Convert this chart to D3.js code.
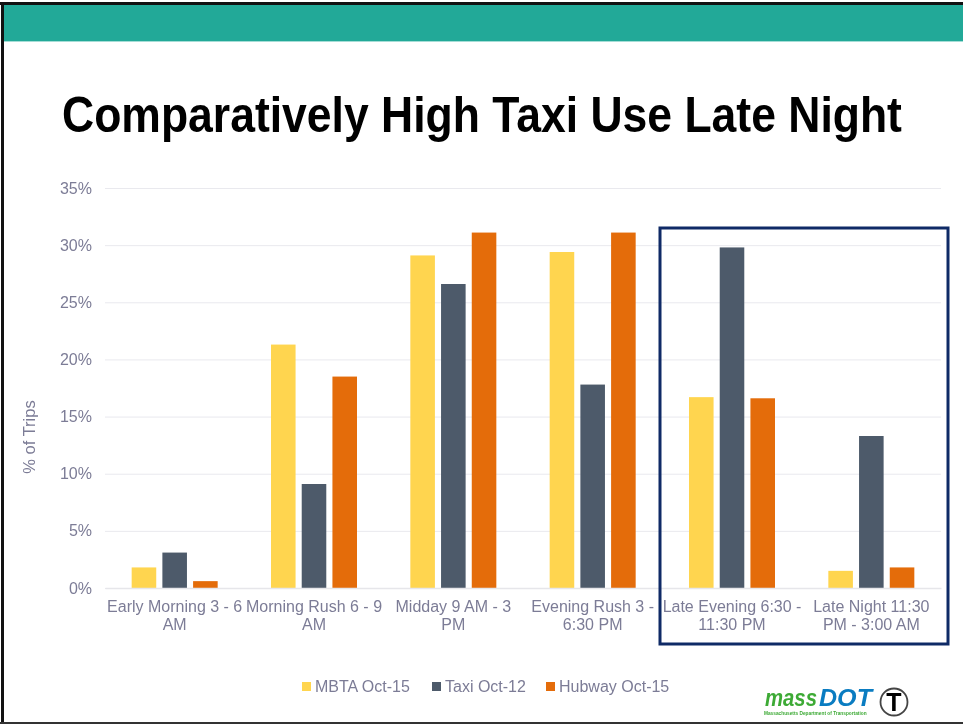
<!DOCTYPE html>
<html><head><meta charset="utf-8">
<script src="https://cdn.jsdelivr.net/npm/d3@7"></script>
<style>html,body{margin:0;padding:0;background:#fff}svg{display:block;filter:blur(0.4px)}text{font-family:"Liberation Sans",Arial,sans-serif}</style>
</head><body><svg id="c" width="963" height="724"></svg>
<script>
const title = "Comparatively High Taxi Use Late Night";
const categories = ["Early Morning 3 - 6 AM","Morning Rush 6 - 9 AM","Midday 9 AM - 3 PM","Evening Rush 3 - 6:30 PM","Late Evening 6:30 - 11:30 PM","Late Night 11:30 PM - 3:00 AM"];
const categoryLines = [["Early Morning 3 - 6","AM"],["Morning Rush 6 - 9","AM"],["Midday 9 AM - 3","PM"],["Evening Rush 3 -","6:30 PM"],["Late Evening 6:30 -","11:30 PM"],["Late Night 11:30","PM - 3:00 AM"]];
const seriesNames = ["MBTA Oct-15","Taxi Oct-12","Hubway Oct-15"];
const seriesColors = ["#FFD54F","#4D5A6A","#E46C0A"];
const mbta = [1.8,21.3,29.1,29.4,16.7,1.5];
const taxi = [3.1,9.1,26.6,17.8,29.8,13.3];
const hubway = [0.6,18.5,31.1,31.1,16.6,1.8];
const yTicks = [0,5,10,15,20,25,30,35];
const values = [mbta,taxi,hubway];
const textCol = "#7C7C96";
const labelSize = 16;

const svg = d3.select("#c");
// text squeezed horizontally to a given width, without overflowing its natural box
function fitText(parent, str, px, py, width, size, fill, italic){
  const t = parent.append("text").attr("font-size",size).attr("font-weight",700).attr("fill",fill)
    .attr("font-style",italic?"italic":"normal").text(str);
  const k = width/t.node().getComputedTextLength();
  t.attr("transform",`translate(${px},${py}) scale(${k},1)`);
  return t;
}
// slide frame and banner
svg.append("rect").attr("x",4).attr("y",5).attr("width",959).attr("height",36).attr("fill","#22A998");
svg.append("rect").attr("x",4).attr("y",41).attr("width",959).attr("height",1).attr("fill","#A5DDD6");
svg.append("rect").attr("x",0).attr("y",2).attr("width",963).attr("height",3).attr("fill","#111");
svg.append("rect").attr("x",1).attr("y",2).attr("width",3).attr("height",722).attr("fill","#111");
svg.append("rect").attr("x",0).attr("y",722).attr("width",963).attr("height",2).attr("fill","#333");
fitText(svg, title, 62, 132, 840, 50, "#000", false);

const x = d3.scaleBand().domain(categories).range([105,941]);
const y = d3.scaleLinear().domain([0,35]).range([588,188]);
const inner = d3.scaleBand().domain(seriesNames).range([-43,43]).paddingInner(0.2).paddingOuter(0);

// y axis + gridlines
const gy = svg.append("g").attr("transform","translate(105,0)")
  .call(d3.axisLeft(y).tickValues(yTicks).tickFormat(d=>d+"%").tickSize(-836).tickPadding(13));
gy.select(".domain").remove();
gy.selectAll(".tick line").attr("stroke","#E9E9EE").attr("stroke-width",1);
gy.selectAll(".tick text").attr("fill",textCol).attr("font-size",labelSize);
svg.append("text").attr("transform","translate(35,437) rotate(-90)").attr("text-anchor","middle")
  .attr("fill",textCol).attr("font-size",labelSize+0.5).text("% of Trips");

// bars
seriesNames.forEach((s,i)=>{
  svg.append("g").selectAll("rect").data(values[i]).join("rect")
    .attr("x",(d,j)=>x(categories[j])+x.bandwidth()/2+inner(s))
    .attr("width",inner.bandwidth())
    .attr("y",d=>y(d)).attr("height",d=>y(0)-y(d)).attr("fill",seriesColors[i]);
});

// x axis
const gx = svg.append("g").attr("transform","translate(0,588)")
  .call(d3.axisBottom(x).tickSize(0).tickFormat(""));
gx.select(".domain").attr("stroke","#E6E6EA").attr("stroke-width",1.5);
gx.selectAll(".tick text").remove();
gx.selectAll(".tick").each(function(d,i){
  const t = d3.select(this).append("text").attr("text-anchor","middle").attr("fill",textCol).attr("font-size",labelSize);
  categoryLines[i].forEach((l,k)=>t.append("tspan").attr("x",0).attr("y",24+k*18).text(l));
});

// highlight box
svg.append("rect").attr("x",660).attr("y",228).attr("width",288).attr("height",416).attr("fill","none").attr("stroke","#0F2A66").attr("stroke-width",3);

// legend
const lx = [302,432,546];
seriesNames.forEach((s,i)=>{
  svg.append("rect").attr("x",lx[i]).attr("y",682).attr("width",9).attr("height",9).attr("fill",seriesColors[i]);
  svg.append("text").attr("x",lx[i]+13).attr("y",692).attr("fill",textCol).attr("font-size",labelSize).text(s);
});

// logo
const logo = svg.append("g");
fitText(logo, "mass", 765, 706, 52, 23, "#3DAA35", true);
fitText(logo, "DOT", 819, 706, 53, 23, "#0A7CC1", true);
fitText(logo, "Massachusetts Department of Transportation", 764, 715, 103, 5, "#3DAA35", false);
logo.append("circle").attr("cx",894).attr("cy",702).attr("r",13.5).attr("fill","#fff").attr("stroke","#444").attr("stroke-width",1.8);
logo.append("text").attr("x",894).attr("y",711).attr("text-anchor","middle").attr("font-size",25).attr("font-weight",700).attr("fill","#000").text("T");
</script></body></html>
